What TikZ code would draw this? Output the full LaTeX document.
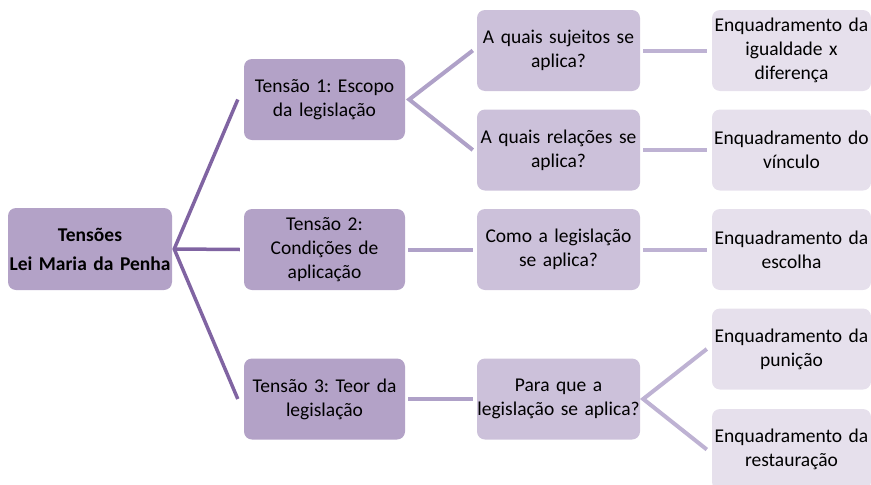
\documentclass[tikz,border=0pt]{standalone}
\usepackage{fontspec}
\setmainfont{Carlito}
\frenchspacing
\definecolor{rootfill}{HTML}{B3A2C7}
\definecolor{midfill}{HTML}{CCC1DA}
\definecolor{leaffill}{HTML}{E6E0EC}
\definecolor{lineA}{HTML}{8064A2}
\definecolor{lineB}{HTML}{AFA1C8}
\definecolor{lineC}{HTML}{BEB2D3}
\tikzset{
  box/.style={rounded corners=8pt, inner sep=0pt, align=center, font=\fontsize{19.5}{24}\selectfont},
  rootbox/.style={box, fill=rootfill, minimum width=164pt, minimum height=82pt, text width=164pt},
  lonebox/.style={box, fill=rootfill, minimum width=161pt, minimum height=81pt, text width=158pt},
  ltwobox/.style={box, fill=midfill, minimum width=163pt, minimum height=81pt, text width=163pt},
  lthreebox/.style={box, fill=leaffill, minimum width=159pt, minimum height=81pt, text width=159pt},
  conA/.style={draw=lineA, line width=3.5pt},
  conB/.style={draw=lineB, line width=4pt},
  conC/.style={draw=lineC, line width=4pt},
}
\begin{document}
\begin{tikzpicture}[x=1pt, y=-1pt]
\useasboundingbox (0,0) rectangle (871,485);
\clip (0,0) rectangle (871,485);
% root
\node[rootbox, font=\bfseries\fontsize{19.5}{24}\selectfont] (root) at (90,249) {Tensões\\[5pt]Lei Maria da Penha};
% level 1
\node[lonebox] (t1) at (324.5,99.5) {Tensão 1: Escopo da legislação};
\node[lonebox] (t2) at (324.5,249.5) {Tensão 2:\\Condições de\\aplicação};
\node[lonebox] (t3) at (324.5,399) {Tensão 3: Teor da\\legislação};
% level 2
\node[ltwobox] (q1) at (558.5,50.5) {A quais sujeitos se\\aplica?};
\node[ltwobox] (q2) at (558.5,150) {A quais relações se\\aplica?};
\node[ltwobox] (q3) at (558.5,249.5) {Como a legislação\\se aplica?};
\node[ltwobox] (q4) at (558.5,399) {Para que a\\legislação se aplica?};
% level 3
\node[lthreebox] (e1) at (791.5,50.5) {Enquadramento da\\igualdade x\\diferença};
\node[lthreebox] (e2) at (791.5,150) {Enquadramento do\\vínculo};
\node[lthreebox] (e3) at (791.5,249.5) {Enquadramento da\\escolha};
\node[lthreebox] (e4) at (791.5,349) {Enquadramento da\\punição};
\node[lthreebox] (e5) at (791.5,449.5) {Enquadramento da\\restauração};
% connector anchors
\coordinate (r0) at ([xshift=2pt]root.east);
\coordinate (a1) at ([xshift=-6pt]t1.west);
\coordinate (a2) at ([xshift=-4pt]t2.west);
\coordinate (a3) at ([xshift=-6pt]t3.west);
\draw[conA] (a1) -- (r0) -- (a3);
\draw[conA] (r0) -- (a2);
\coordinate (b1) at ([xshift=4pt]t1.east);
\draw[conB] ([xshift=-4pt]q1.west) -- (b1) -- ([xshift=-4pt]q2.west);
\draw[conB] ([xshift=3pt]t2.east) -- ([xshift=-4pt]q3.west);
\draw[conB] ([xshift=3pt]t3.east) -- ([xshift=-4pt]q4.west);
\draw[conC] ([xshift=3pt]q1.east) -- ([xshift=-5pt]e1.west);
\draw[conC] ([xshift=3pt]q2.east) -- ([xshift=-5pt]e2.west);
\draw[conC] ([xshift=3pt]q3.east) -- ([xshift=-5pt]e3.west);
\coordinate (c4) at ([xshift=3pt]q4.east);
\draw[conC] ([xshift=-5pt]e4.west) -- (c4) -- ([xshift=-5pt]e5.west);
\end{tikzpicture}
\end{document}
